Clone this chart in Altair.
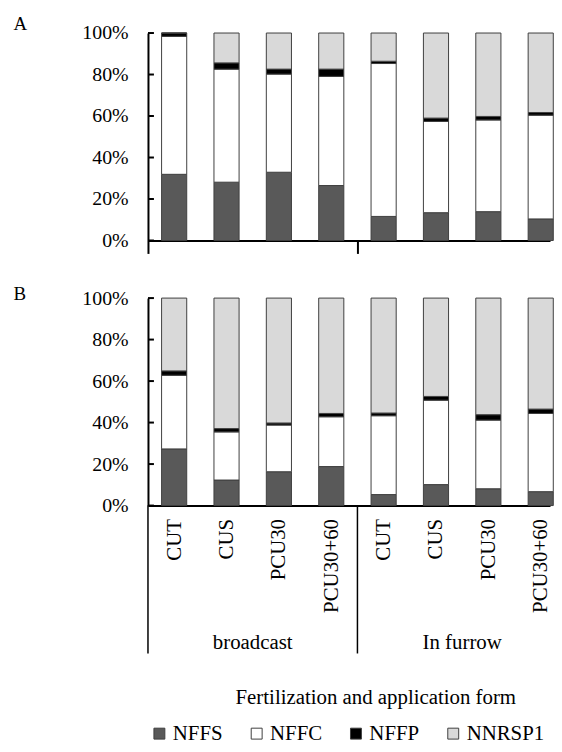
import json
import altair as alt
import pandas as pd

# ---------------- data ----------------
treatments = ["CUT", "CUS", "PCU30", "PCU30+60", "CUT", "CUS", "PCU30", "PCU30+60"]
forms = ["broadcast"] * 4 + ["In furrow"] * 4
components = ["NFFS", "NFFC", "NFFP", "NNRSP1"]
colors = ["#595959", "#ffffff", "#000000", "#d9d9d9"]

# Panel A (percent of total)
A_NFFS = [31.9, 28.1, 32.9, 26.5, 11.6, 13.4, 13.9, 10.4]
A_NFFC = [66.5, 54.5, 47.3, 52.6, 73.7, 44.0, 44.2, 50.0]
A_NFFP = [1.6, 3.0, 2.4, 3.5, 1.1, 1.6, 1.7, 1.3]
A_NNRSP1 = [0.0, 14.4, 17.4, 17.4, 13.6, 41.0, 40.2, 38.3]

# Panel B (percent of total)
B_NFFS = [27.3, 12.3, 16.3, 18.8, 5.3, 10.1, 8.1, 6.7]
B_NFFC = [35.5, 23.2, 22.5, 24.0, 38.0, 40.7, 33.1, 37.7]
B_NFFP = [2.1, 1.6, 1.0, 1.6, 1.3, 1.8, 2.6, 2.1]
B_NNRSP1 = [35.1, 62.9, 60.2, 55.6, 55.4, 47.4, 56.2, 53.5]

y_ticks = [0, 0.2, 0.4, 0.6, 0.8, 1.0]
x_title = "Fertilization and application form"

# ---------------- layout ----------------
FONT = "Liberation Serif, Times New Roman, serif"
W, H = 405, 209
STEP = 52.75
XMAX = -0.5 + W / STEP
HALF = 0.24


def long_df(series):
    rows = []
    for ci, comp in enumerate(components):
        for i, v in enumerate(series[ci]):
            rows.append({"idx": i, "treatment": treatments[i], "form": forms[i],
                         "component": comp, "ord": ci, "value": v / 100.0})
    return pd.DataFrame(rows)


dfA = long_df([A_NFFS, A_NFFC, A_NFFP, A_NNRSP1])
dfB = long_df([B_NFFS, B_NFFC, B_NFFP, B_NNRSP1])

grp_rows = []
for f in dict.fromkeys(forms):
    ids = [i for i, g in enumerate(forms) if g == f]
    grp_rows.append({"form": f, "center": sum(ids) / len(ids), "start": min(ids) - 0.5})
groups_df = pd.DataFrame(grp_rows)
group_starts = list(groups_df["start"])
ticks_df = pd.DataFrame({"tick": y_ticks})


def xscale():
    return alt.Scale(domain=[-0.5, XMAX], nice=False, zero=False)


legend = alt.Legend(
    title=None, orient="none", legendX=1, legendY=695, direction="horizontal",
    symbolType="square", symbolSize=121, symbolStrokeColor="#404040",
    symbolStrokeWidth=1, labelFont=FONT, labelFontSize=21, labelColor="black",
    labelOffset=3, columnPadding=23, padding=0,
)


def panel(df, letter, title_y, x_axis):
    yaxis = alt.Axis(
        values=y_ticks, format=".0%", title=letter, titleAngle=0, titleX=-136,
        titleY=title_y, titleAlign="left", titleBaseline="alphabetic",
        titleFontSize=19, titleFontWeight="normal", titleFont=FONT, titleColor="black",
        ticks=False, tickSize=0, labelPadding=20, labelFontSize=20, labelFont=FONT,
        labelColor="black", domainWidth=2, domainColor="black", grid=False,
    )
    bars = (
        alt.Chart(df)
        .transform_window(cum="sum(value)", groupby=["idx"], sort=[{"field": "ord"}])
        .transform_calculate(x1=f"datum.idx - {HALF}", x2=f"datum.idx + {HALF}",
                             y0="datum.cum - datum.value")
        .mark_bar(stroke="#404040", strokeWidth=1)
        .encode(
            x=alt.X("x1:Q", scale=xscale(), axis=x_axis),
            x2="x2:Q",
            y=alt.Y("y0:Q", scale=alt.Scale(domain=[0, 1], nice=False), axis=yaxis),
            y2="cum:Q",
            color=alt.Color("component:N",
                            scale=alt.Scale(domain=components, range=colors),
                            legend=legend),
        )
    )
    ticks = (
        alt.Chart(ticks_df)
        .mark_rule(color="black", strokeWidth=2)
        .encode(y=alt.Y("tick:Q", title=letter), x=alt.value(0), x2=alt.value(6))
    )
    return alt.layer(bars, ticks).properties(width=W, height=H)


axisA = alt.Axis(values=group_starts, labels=False, tickSize=13, tickWidth=2,
                 tickColor="black", domainWidth=2, domainColor="black",
                 title=None, grid=False)

label_expr = json.dumps(treatments) + "[datum.value]"
axisB = alt.Axis(values=list(range(len(treatments))), labelExpr=label_expr,
                 labelAngle=270, labelAlign="right", labelBaseline="middle",
                 ticks=False, tickSize=0, labelPadding=13, labelFlush=False,
                 labelOverlap=False, labelFont=FONT, labelFontSize=21,
                 labelColor="black", domainWidth=2, domainColor="black",
                 title=None, grid=False)

panelA = panel(dfA, "A", -4, axisA)
panelB = panel(dfB, "B", 1, axisB)

rules = (
    alt.Chart(groups_df)
    .mark_rule(color="black", strokeWidth=1.5)
    .encode(x=alt.X("start:Q", scale=xscale(),
                    axis=alt.Axis(title=x_title, domain=False, ticks=False,
                                  labels=False, grid=False, titleX=229, titleY=44,
                                  titleAlign="center", titleBaseline="middle",
                                  titleFont=FONT, titleFontSize=21,
                                  titleFontWeight="normal", titleColor="black")))
)
group_text = (
    alt.Chart(groups_df)
    .mark_text(font=FONT, fontSize=21, color="black", dy=64)
    .encode(x=alt.X("center:Q"), text="form:N")
)
labels_panel = alt.layer(rules, group_text).properties(width=W, height=149)

lower = alt.vconcat(panelB, labels_panel, spacing=0, bounds="flush").resolve_scale(color="shared")

chart = (
    alt.vconcat(panelA, lower, spacing=58, bounds="flush")
    .resolve_scale(color="shared")
    .properties(padding={"left": 5, "top": 3.5, "right": 0, "bottom": 0})
    .configure(font=FONT, background="white")
    .configure_view(strokeWidth=0)
)

chart.save("out.html", embed_options={"renderer": "svg", "actions": False})
